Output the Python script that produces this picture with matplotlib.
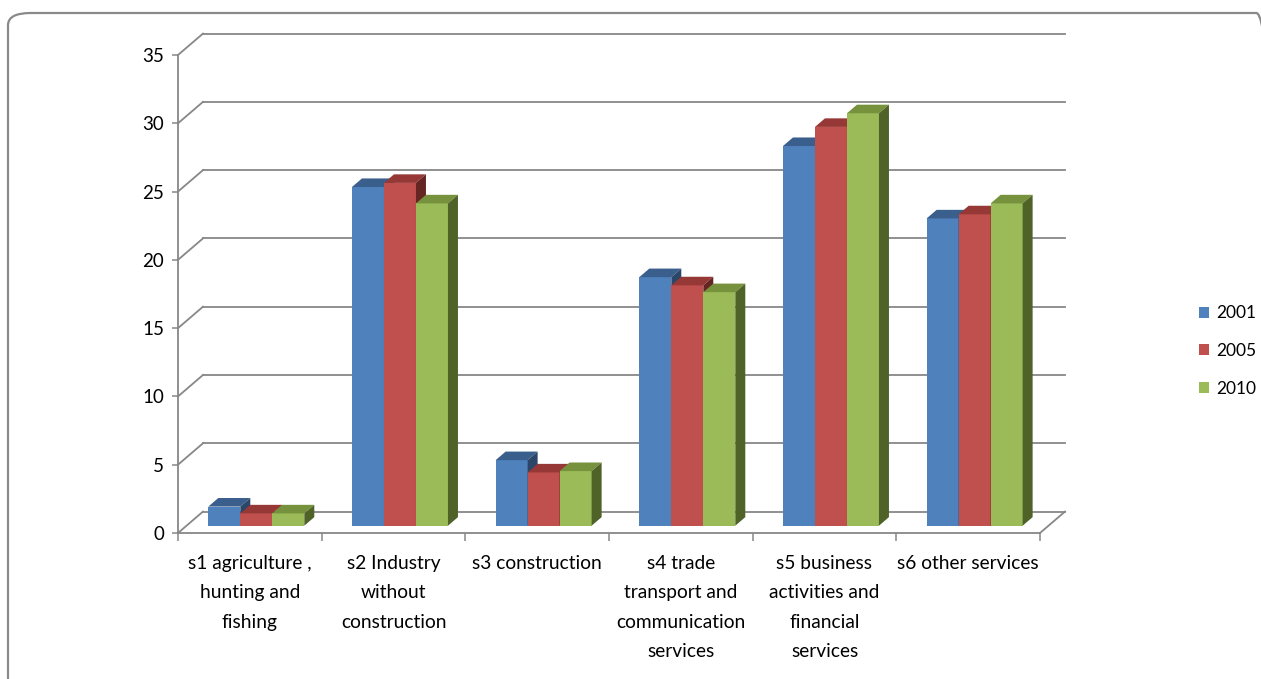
import matplotlib
matplotlib.use("Agg")
import matplotlib.pyplot as plt
from matplotlib.patches import Polygon, Patch, FancyBboxPatch

plt.rcParams['font.family'] = ['Lato', 'DejaVu Sans']

# ---- data -------------------------------------------------------------
categories = [
    "s1 agriculture ,\nhunting and\nfishing",
    "s2 Industry\nwithout\nconstruction",
    "s3 construction",
    "s4 trade\ntransport and\ncommunication\nservices",
    "s5 business\nactivities and\nfinancial\nservices",
    "s6 other services",
]
series_names = ["2001", "2005", "2010"]
values_2001 = [1.4, 24.8, 4.8, 18.2, 27.8, 22.5]
values_2005 = [0.9, 25.1, 3.9, 17.6, 29.2, 22.8]
values_2010 = [0.9, 23.6, 4.0, 17.1, 30.2, 23.6]
y_ticks = [0, 5, 10, 15, 20, 25, 30, 35]

# ---- styling ------------------------------------------------------------
front_colors = ["#4F81BD", "#C0504D", "#9BBB59"]
top_colors = ["#3A5F8C", "#963836", "#76923C"]
side_colors = ["#2B4668", "#652523", "#4F6228"]
grid_color = "#878787"

W, H = 1261, 679
fig = plt.figure(figsize=(W / 100, H / 100), dpi=100)

# rounded outer frame of the chart area
frame = FancyBboxPatch((8 / W, -20 / H), (W + 10) / W, (H - 13 + 20) / H,
                       boxstyle="round,pad=0,rounding_size=0.018",
                       transform=fig.transFigure, facecolor="none",
                       edgecolor="#8a8a8a", linewidth=1.6, zorder=-1)
fig.patches.append(frame)

# plot axes: front plane of the 3-D box
ax = fig.add_axes([178 / W, (H - 533) / H, 862 / W, 478 / H])
ax.set_facecolor("none")
n = len(categories)
ax.set_xlim(0, n)
ax.set_ylim(0, 35)

# oblique depth vector (category units, value units)
depth_x, depth_y = 0.174, 1.57

# back wall gridlines and side-wall diagonals
for v in y_ticks:
    ax.plot([depth_x, n + depth_x], [v + depth_y, v + depth_y],
            color=grid_color, lw=1.3, clip_on=False, zorder=1)
    ax.plot([0, depth_x], [v, v + depth_y],
            color=grid_color, lw=1.3, clip_on=False, zorder=1)
# right edge of the floor
ax.plot([n, n + depth_x], [0, depth_y], color=grid_color, lw=1.3,
        clip_on=False, zorder=1)

# bars
f0, f1 = 0.34, 0.74
bx, by = 0.045, f0 * depth_y
ddx, ddy = (f1 - f0) * depth_x, (f1 - f0) * depth_y
bar_w = 0.2227
all_series = [values_2001, values_2005, values_2010]
z = 2
for i in range(n):
    for j, vals in enumerate(all_series):
        v = vals[i]
        left = i + 0.5 + (j - 1.5) * bar_w + bx
        ax.bar(left, v, width=bar_w, bottom=by, align="edge",
               color=front_colors[j], linewidth=0, zorder=z)
        top = by + v
        right = left + bar_w
        ax.add_patch(Polygon([(left, top), (right, top),
                              (right + ddx, top + ddy), (left + ddx, top + ddy)],
                             closed=True, facecolor=top_colors[j],
                             edgecolor="none", zorder=z, clip_on=False))
        ax.add_patch(Polygon([(right, by), (right + ddx, by + ddy),
                              (right + ddx, top + ddy), (right, top)],
                             closed=True, facecolor=side_colors[j],
                             edgecolor="none", zorder=z, clip_on=False))
        z += 1

# axes, ticks and labels
for s in ["top", "right"]:
    ax.spines[s].set_visible(False)
for s in ["left", "bottom"]:
    ax.spines[s].set_color(grid_color)
    ax.spines[s].set_linewidth(1.3)
    ax.spines[s].set_zorder(100)

ax.set_yticks(y_ticks)
ax.set_yticklabels([str(t) for t in y_ticks])
ax.tick_params(axis="y", direction="out", length=4, width=1.1,
               color=grid_color, pad=6, labelsize=13.5, labelcolor="black")

ax.set_xticks(range(n + 1))
ax.set_xticklabels([""] * (n + 1))
ax.tick_params(axis="x", which="major", direction="out", length=6,
               width=1.1, color=grid_color)
ax.set_xticks([i + 0.5 for i in range(n)], minor=True)
ax.set_xticklabels(categories, minor=True, fontsize=13.8, linespacing=1.87)
ax.tick_params(axis="x", which="minor", length=0, pad=16, labelcolor="black")

# legend at the right
handles = [Patch(facecolor=c, edgecolor="none") for c in front_colors]
fig.legend(handles, series_names, loc="center left",
           bbox_to_anchor=(1183 / W, (H - 351) / H), frameon=False,
           fontsize=12.5, handlelength=0.6, handleheight=0.6,
           handletextpad=0.4, labelspacing=1.25)

fig.savefig("out.png", dpi=100)
